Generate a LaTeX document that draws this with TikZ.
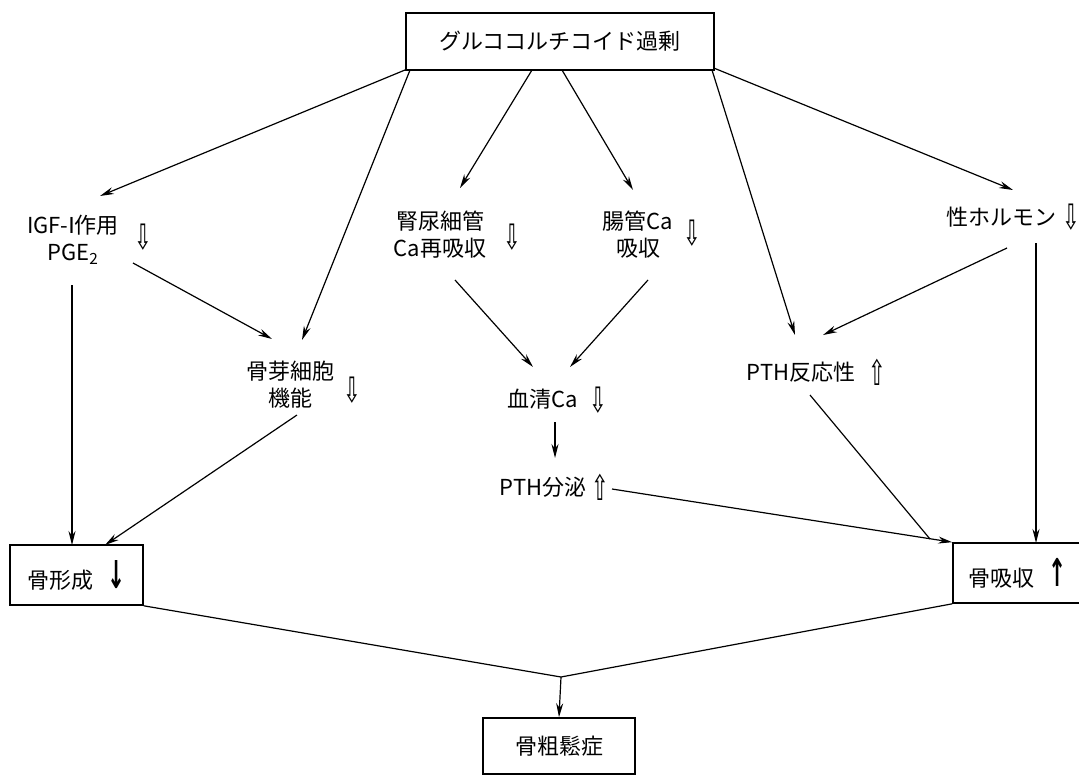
\documentclass[tikz,border=0pt]{standalone}
\usepackage{fontspec}
\setmainfont{Noto Sans CJK JP}
\newfontfamily\symfont{DejaVu Sans}
\usetikzlibrary{arrows.meta}
\newcommand{\hdn}{{\symfont\fontsize{20}{24}\selectfont\scalebox{1.05}[1.75]{⇩}}}
\newcommand{\hup}{{\symfont\fontsize{20}{24}\selectfont\scalebox{1.05}[1.75]{⇧}}}
\newcommand{\bdn}{{\symfont\bfseries\fontsize{24}{26}\selectfont\scalebox{0.9}[1.6]{↓}}}
\newcommand{\bup}{{\symfont\bfseries\fontsize{24}{26}\selectfont\scalebox{0.9}[1.6]{↑}}}
\begin{document}
\begin{tikzpicture}[x=1pt,y=-1pt,
  lbl/.style={font=\fontsize{22}{27}\selectfont, align=center, inner sep=0pt},
  sym/.style={inner sep=0pt},
  boxn/.style={draw, line width=1.6pt, font=\fontsize{22}{27}\selectfont, inner sep=0pt},
  arr/.style={-{Stealth[length=14pt,width=7pt]}, line width=1.2pt},
  ln/.style={line width=1.2pt}]
\useasboundingbox (0,0) rectangle (1079,774);
% boxes
\node[boxn, minimum width=308pt, minimum height=57pt] (top) at (560,41.5) {グルココルチコイド過剰};
\node[boxn, minimum width=133pt, minimum height=60pt] (keisei) at (76.5,575) {骨形成\hspace{14pt}\bdn};
\node[boxn, minimum width=130pt, minimum height=60pt] (kyuushu) at (1018,573) {骨吸収\hspace{14pt}\bup};
\node[boxn, minimum width=152pt, minimum height=56pt] (sosho) at (559,746) {骨粗鬆症};
% labels
\node[lbl] (igf) at (73,240) {IGF-{\symfont Ⅰ}作用\\PGE\textsubscript{2}};
\node[sym] (igfd) at (143,237) {\hdn};
\node[lbl] (jin) at (440,235) {腎尿細管\\Ca再吸収};
\node[sym] (jind) at (512,237) {\hdn};
\node[lbl] (cho) at (638,235) {腸管Ca\\吸収};
\node[sym] (chod) at (692,233) {\hdn};
\node[lbl] (sei) at (1001,217) {性ホルモン};
\node[sym] (seid) at (1071,217) {\hdn};
\node[lbl] (kotsuga) at (290,385) {骨芽細胞\\機能};
\node[sym] (kotsugad) at (352,390) {\hdn};
\node[lbl] (kessei) at (543,399) {血清Ca};
\node[sym] (kesseid) at (598,400) {\hdn};
\node[lbl] (pthb) at (543,487) {PTH分泌};
\node[sym] (pthbu) at (600,487) {\hup};
\node[lbl] (pthh) at (801,372) {PTH反応性};
\node[sym] (pthhu) at (877,372) {\hup};
\coordinate (j) at (561,677);
% connectors from top box
\draw[arr] ([shift={(-155,28.5)}]top.center) -- ([shift={(27,-44)}]igf.center);
\draw[arr] ([shift={(-150,28.5)}]top.center) -- ([shift={(12,-45)}]kotsuga.center);
\draw[arr] ([shift={(-28,28.5)}]top.center) -- ([shift={(20,-47)}]jin.center);
\draw[arr] ([shift={(2,28.5)}]top.center) -- ([shift={(-5,-45)}]cho.center);
\draw[arr] ([shift={(152,28.5)}]top.center) -- ([shift={(-6,-37)}]pthh.center);
\draw[arr] ([shift={(155,27)}]top.center) -- ([shift={(12,-27)}]sei.center);
% second level
\draw[arr] ([shift={(-1,45)}]igf.center) -- ([shift={(-4.5,-30)}]keisei.center);
\draw[arr] ([shift={(60,23)}]igf.center) -- ([shift={(-18,-46)}]kotsuga.center);
\draw[arr] ([shift={(15,45)}]jin.center) -- ([shift={(-10,-32)}]kessei.center);
\draw[arr] ([shift={(10,45)}]cho.center) -- ([shift={(27,-32)}]kessei.center);
\draw[arr] ([shift={(6,31)}]sei.center) -- ([shift={(22,-37)}]pthh.center);
\draw[arr] ([shift={(35,26)}]sei.center) -- ([shift={(18,-30)}]kyuushu.center);
\draw[arr] ([shift={(12,23)}]kessei.center) -- ([shift={(12,-29)}]pthb.center);
\draw[arr] ([shift={(69,2)}]pthb.center) -- (kyuushu.north west);
\draw[ln] ([shift={(9,23)}]pthh.center) -- ([shift={(-88,-34)}]kyuushu.center);
\draw[arr] ([shift={(7,30)}]kotsuga.center) -- ([shift={(28.5,-30)}]keisei.center);
% bottom
\draw[ln] (keisei.south east) -- (j);
\draw[ln] (kyuushu.south west) -- (j);
\draw[arr] (j) -- (sosho.north);
\end{tikzpicture}
\end{document}
